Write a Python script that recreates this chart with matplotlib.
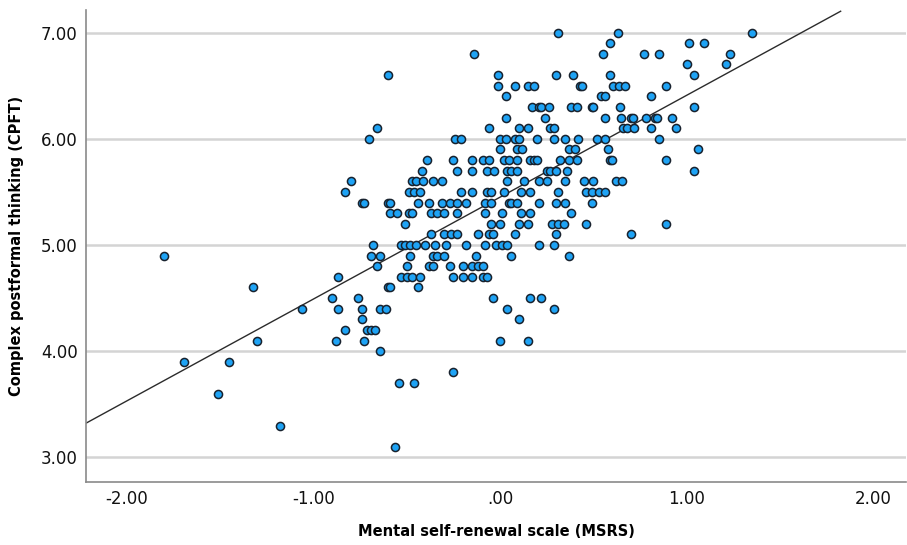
import numpy as np
import matplotlib
matplotlib.use("Agg")
import matplotlib.pyplot as plt

# MSRS (x) and CPFT (y) values, one row per CPFT level
msrs = [
    0.31, 0.63, 1.35,
    0.59, 1.01, 1.09,
    -0.14, 0.55, 0.77, 0.85, 1.23,
    1.00, 1.21,
    -0.60, -0.01, 0.30, 0.39, 0.59, 1.04,
    -0.01, 0.08, 0.15, 0.18, 0.43, 0.44, 0.605, 0.635, 0.67, 0.89,
    0.03, 0.54, 0.56, 0.81,
    0.17, 0.21, 0.22, 0.26, 0.38, 0.41, 0.49, 0.50, 0.64, 1.04,
    0.03, 0.24, 0.56, 0.65, 0.70, 0.71, 0.78, 0.83, 0.84, 0.92,
    -0.66, -0.06, 0.10, 0.15, 0.27, 0.29, 0.66, 0.68, 0.72, 0.81, 0.94,
    -0.70, -0.24, -0.21, 0.00, 0.03, 0.08, 0.10, 0.20, 0.29, 0.35, 0.42, 0.52, 0.56, 0.85,
    0.00, 0.09, 0.12, 0.37, 0.40, 0.58, 1.06,
    -0.39, -0.25, -0.15, -0.09, -0.06, 0.02, 0.05, 0.09, 0.16, 0.18, 0.20, 0.32, 0.37, 0.41, 0.59, 0.60, 0.89,
    -0.42, -0.23, -0.15, -0.07, -0.03, 0.04, 0.06, 0.09, 0.25, 0.27, 0.30, 0.36, 1.04,
    -0.80, -0.47, -0.45, -0.41, -0.36, -0.31, 0.04, 0.13, 0.21, 0.25, 0.35, 0.45, 0.50, 0.62, 0.655,
    -0.83, -0.49, -0.46, -0.43, -0.21, -0.15, -0.07, -0.05, 0.02, 0.11, 0.16, 0.31, 0.46, 0.49, 0.53, 0.56,
    -0.74, -0.73, -0.60, -0.59, -0.44, -0.38, -0.31, -0.27, -0.23, -0.18, -0.08, -0.05, 0.05, 0.06, 0.09, 0.21, 0.30, 0.35, 0.49,
    -0.59, -0.55, -0.49, -0.47, -0.37, -0.34, -0.30, -0.23, -0.08, 0.01, 0.11, 0.16, 0.38,
    -0.51, -0.05, 0.00, 0.10, 0.15, 0.28, 0.31, 0.34, 0.46, 0.89,
    -0.37, -0.30, -0.26, -0.23, -0.12, -0.06, -0.04, 0.08, 0.30, 0.70,
    -0.68, -0.53, -0.51, -0.48, -0.45, -0.40, -0.35, -0.29, -0.18, -0.08, -0.02, 0.01, 0.04, 0.21, 0.29,
    -1.80, -0.69, -0.64, -0.48, -0.36, -0.34, -0.30, -0.13, 0.06, 0.37,
    -0.66, -0.50, -0.38, -0.36, -0.27, -0.20, -0.15, -0.12, -0.09,
    -0.87, -0.53, -0.50, -0.47, -0.43, -0.25, -0.20, -0.15, -0.09, -0.07,
    -1.32, -0.60, -0.59, -0.44,
    -0.90, -0.76, -0.04, 0.16, 0.22,
    -1.06, -0.87, -0.74, -0.64, -0.61, 0.04, 0.29,
    -0.74, 0.10,
    -0.83, -0.71, -0.69, -0.67,
    -1.30, -0.88, -0.73, 0.00, 0.15,
    -0.64,
    -1.69, -1.45,
    -0.25,
    -0.54, -0.46,
    -1.51,
    -1.18,
    -0.56,
]
cpft = (
    [7.0] * 3 + [6.9] * 3 + [6.8] * 5 + [6.7] * 2 + [6.6] * 6 + [6.5] * 10
    + [6.4] * 4 + [6.3] * 10 + [6.2] * 10 + [6.1] * 11 + [6.0] * 14
    + [5.9] * 7 + [5.8] * 17 + [5.7] * 13 + [5.6] * 15 + [5.5] * 16
    + [5.4] * 19 + [5.3] * 13 + [5.2] * 10 + [5.1] * 10 + [5.0] * 15
    + [4.9] * 10 + [4.8] * 9 + [4.7] * 10 + [4.6] * 4 + [4.5] * 5
    + [4.4] * 7 + [4.3] * 2 + [4.2] * 4 + [4.1] * 5 + [4.0] * 1
    + [3.9] * 2 + [3.8] * 1 + [3.7] * 2 + [3.6] * 1 + [3.3] * 1 + [3.1] * 1
)

# fit line as drawn in the figure
fit_intercept = 5.45
fit_slope = 0.96
fit_x_range = [-2.217, 1.824]

x_ticks = [-2, -1, 0, 1, 2]
x_ticklabels = ["-2.00", "-1.00", ".00", "1.00", "2.00"]
y_ticks = [3, 4, 5, 6, 7]
y_ticklabels = ["3.00", "4.00", "5.00", "6.00", "7.00"]

fig = plt.figure(figsize=(9.07, 5.45), dpi=100)
ax = fig.add_axes([0.0948, 0.1156, 0.9041, 0.8661])

ax.set_xlim(-2.217, 2.174)
ax.set_ylim(2.768, 7.213)

for yt in y_ticks:
    ax.axhline(yt, color="#d4d4d4", lw=1.8, zorder=0)

fx = np.array(fit_x_range)
ax.plot(fx, fit_intercept + fit_slope * fx, color="#2b2b2b", lw=1.0, zorder=2)

ax.scatter(msrs, cpft, s=34, c="#1ea3f5", edgecolors="#18222e",
           linewidths=1.1, zorder=3)

ax.set_xticks(x_ticks)
ax.set_xticklabels(x_ticklabels)
ax.set_yticks(y_ticks)
ax.set_yticklabels(y_ticklabels)
ax.tick_params(length=0, labelsize=12, colors="#111111")
ax.tick_params(axis="x", pad=6)
ax.tick_params(axis="y", pad=6)
for lbl in ax.get_xticklabels() + ax.get_yticklabels():
    lbl.set_fontweight("medium")

for side in ["top", "right"]:
    ax.spines[side].set_visible(False)
for side in ["left", "bottom"]:
    ax.spines[side].set_color("#8a8a8a")
    ax.spines[side].set_linewidth(1.2)

ax.set_xlabel("Mental self-renewal scale (MSRS)", fontsize=10.5, fontweight="bold", labelpad=11)
ax.set_ylabel("Complex postformal thinking (CPFT)", fontsize=10.5, fontweight="bold", labelpad=12)

fig.savefig("out.png", dpi=100)
